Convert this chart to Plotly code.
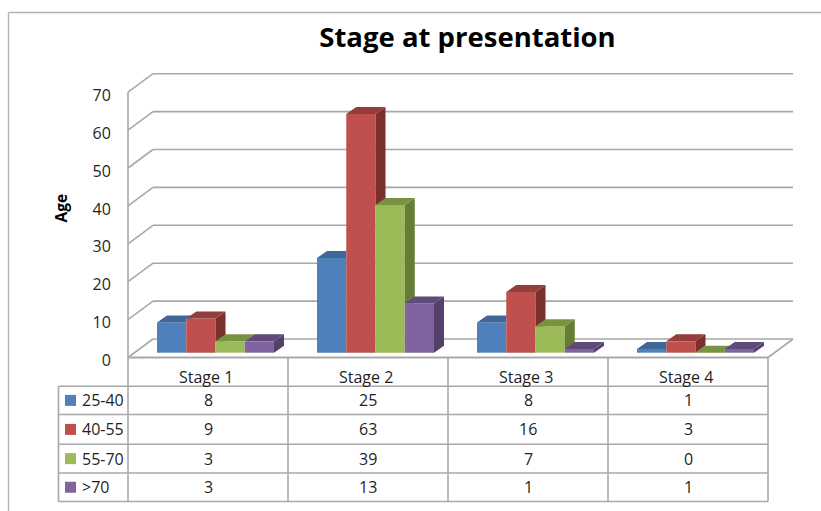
import plotly.graph_objects as go

TITLE = "Stage at presentation"
Y_TITLE = "Age"
stages = ["Stage 1", "Stage 2", "Stage 3", "Stage 4"]
series = ["25-40", "40-55", "55-70", ">70"]
v_25_40 = [8, 25, 8, 1]
v_40_55 = [9, 63, 16, 3]
v_55_70 = [3, 39, 7, 0]
v_over_70 = [3, 13, 1, 1]
values = [v_25_40, v_40_55, v_55_70, v_over_70]
y_ticks = [0, 10, 20, 30, 40, 50, 60, 70]
front_colors = ["#4F81BD", "#C0504D", "#9BBB59", "#8064A2"]
top_colors = ["#3F6797", "#943D3A", "#77933F", "#604A7B"]
side_colors = ["#365A85", "#7C302E", "#667D35", "#544069"]

W, H = 821, 511
PX_X0, PX_CAT = 128.0, 160.0
PX_Y0, PX_UNIT = 357.5, 3.79
GRID = "#A8A8A8"
TEXT = "#1F1F1F"
FONT = "Open Sans"


def ux(px):
    return (px - PX_X0) / PX_CAT


def uy(px):
    return (PX_Y0 - px) / PX_UNIT


# depth of the wall, of the bar bases and of a bar, in axis units
wall_x, wall_y = 25 / PX_CAT, 18.5 / PX_UNIT
base_x, base_y = 7.5 / PX_CAT, 4.8 / PX_UNIT
depth_x, depth_y = 10 / PX_CAT, 7 / PX_UNIT
group_w = 117 / PX_CAT
bar_w = group_w / 4

fig = go.Figure()

for s, name in enumerate(series):
    fig.add_trace(go.Bar(
        x=[i + 0.5 + base_x for i in range(4)], y=values[s], base=base_y,
        name=name, marker=dict(color=front_colors[s], line_width=0),
        showlegend=False, hoverinfo="skip"))

for c in range(4):
    left = c + 0.5 + base_x - group_w / 2
    for s in range(4):
        x0 = left + s * bar_w
        x1 = x0 + bar_w
        t = values[s][c] + base_y
        nt = values[s + 1][c] + base_y if s < 3 else None
        # side face, hidden below the top of the next bar
        if nt is None or nt < t:
            low = base_y if nt is None else nt
            lowb = low + depth_y if nt is None else max(nt, base_y + depth_y)
            fig.add_trace(go.Scatter(
                x=[x1, x1 + depth_x, x1 + depth_x, x1, x1],
                y=[t, t + depth_y, lowb, low, t],
                mode="lines", fill="toself", fillcolor=side_colors[s],
                line=dict(width=0), showlegend=False, hoverinfo="skip"))
        # top face, hidden where it falls behind a taller next bar
        if nt is not None and nt > t:
            if nt < t + depth_y:
                xe = x1 + depth_x * (nt - t) / depth_y
                xs = [x0, x1, x1, xe, x1 + depth_x, x0 + depth_x, x0]
                ys = [t, t, nt, nt, t + depth_y, t + depth_y, t]
            else:
                xs = [x0, x1, x1, x0 + depth_x, x0]
                ys = [t, t, t + depth_y, t + depth_y, t]
        else:
            xs = [x0, x1, x1 + depth_x, x0 + depth_x, x0]
            ys = [t, t, t + depth_y, t + depth_y, t]
        fig.add_trace(go.Scatter(
            x=xs, y=ys, mode="lines", fill="toself", fillcolor=top_colors[s],
            line=dict(width=0), showlegend=False, hoverinfo="skip"))

shapes = []


def line(x0, y0, x1, y1, width=1.6, color=GRID):
    shapes.append(dict(type="line", xref="x", yref="y", x0=x0, y0=y0, x1=x1, y1=y1,
                       layer="below", line=dict(color=color, width=width)))


# walls
for v in y_ticks:
    line(0, v, wall_x, v + wall_y)
    line(wall_x, v + wall_y, 4 + wall_x, v + wall_y)
line(0, 0, 0, y_ticks[-1])
line(0, 0, 4, 0, 2)
line(4, 0, 4 + wall_x, wall_y)

# data table
row_px = [386.3, 414.5, 444.3, 473, 501.5]
table_left = ux(58.5)
for p in row_px:
    line(table_left, uy(p), 4, uy(p))
line(table_left, uy(row_px[0]), table_left, uy(row_px[-1]))
for i in range(5):
    line(i, 0, i, uy(row_px[-1]))

# outer frame
line(ux(8.5), uy(12.5), ux(W), uy(12.5), 1.4, "#B4B4B4")
line(ux(8.5), uy(12.5), ux(8.5), uy(H), 1.4, "#B4B4B4")

ann = []
for i, st in enumerate(stages):
    ann.append(dict(x=i + 0.5 - 0.01, y=uy(376.5), text=st, showarrow=False, xanchor="center", yanchor="middle"))
    for s in range(4):
        ym = uy((row_px[s] + row_px[s + 1]) / 2)
        ann.append(dict(x=i + 0.5, y=ym, text=str(values[s][i]), showarrow=False,
                        xanchor="center", yanchor="middle"))
for s, name in enumerate(series):
    ym = uy((row_px[s] + row_px[s + 1]) / 2)
    ann.append(dict(x=ux(79.5), y=ym, text=name, showarrow=False, xanchor="left", yanchor="middle"))
    fig.add_trace(go.Scatter(x=[ux(70.5)], y=[ym], mode="markers",
                             marker=dict(symbol="square", size=11, color=front_colors[s]),
                             showlegend=False, hoverinfo="skip"))
ann.append(dict(x=ux(60), y=uy(208.5), text="<b>" + Y_TITLE + "</b>", textangle=-90, showarrow=False,
                xanchor="center", yanchor="middle", font=dict(size=15.5, color="#000000", family=FONT)))

fig.update_layout(
    width=W, height=H, autosize=False,
    margin=dict(l=0, r=0, t=0, b=0),
    paper_bgcolor="white", plot_bgcolor="white",
    barmode="group", bargap=1 - group_w, bargroupgap=0,
    showlegend=False,
    font=dict(family=FONT, size=16, color=TEXT),
    title=dict(text=TITLE, x=467.5 / W, xanchor="center", xref="paper",
               y=1 - 37 / H, yanchor="middle", yref="paper",
               font=dict(family=FONT, size=27.5, color="#000000", weight=700)),
    shapes=shapes, annotations=ann,
    xaxis=dict(range=[ux(0), ux(W)], domain=[0, 1], showgrid=False, zeroline=False,
               showticklabels=False, ticks="", showline=False, fixedrange=True),
    yaxis=dict(range=[uy(H), uy(0)], domain=[0, 1], showgrid=False, zeroline=False,
               anchor="free", position=PX_X0 / W, showline=False, fixedrange=True,
               tickmode="array", tickvals=y_ticks, ticktext=[str(v) for v in y_ticks],
               ticks="outside", ticklen=14, tickcolor="rgba(0,0,0,0)", ticklabelshift=3,
               tickfont=dict(size=16, color=TEXT)),
)

fig.write_html("out.html", post_script="document.body.style.margin='0';document.body.style.overflow='hidden';",
               config=dict(displayModeBar=False))
